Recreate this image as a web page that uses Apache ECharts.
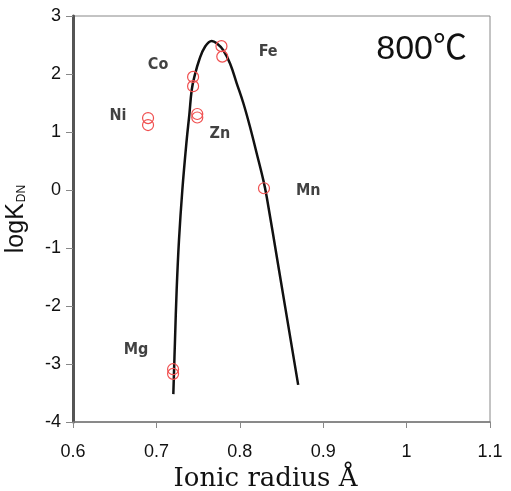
<!DOCTYPE html>
<html>
<head>
<meta charset="utf-8">
<script src="https://cdn.jsdelivr.net/npm/echarts@6/dist/echarts.min.js"></script>
<style>
html, body { margin: 0; padding: 0; background: #fff; }
#chart { width: 511px; height: 491px; }
</style>
</head>
<body>
<div id="chart"></div>
<script>
// measured points (ionic radius, logK)
var pointX = [0.69, 0.69, 0.744, 0.744, 0.749, 0.749, 0.778, 0.779, 0.829, 0.72, 0.72];
var pointY = [1.24, 1.12, 1.95, 1.79, 1.31, 1.25, 2.48, 2.30, 0.03, -3.09, -3.17];

// fitted curve
var curveX = [0.7203, 0.7223, 0.7243, 0.7271, 0.7311, 0.7363, 0.7395, 0.7423, 0.7455, 0.7515, 0.7583, 0.7663, 0.7723, 0.7802, 0.7883, 0.7963, 0.8042, 0.8122, 0.8203, 0.8282, 0.8323, 0.847, 0.870];
var curveY = [-3.52, -2.59, -1.72, -0.86, 0.0, 0.86, 1.30, 1.72, 1.95, 2.25, 2.47, 2.57, 2.53, 2.41, 2.18, 1.84, 1.50, 1.09, 0.63, 0.17, -0.12, -1.38, -3.36];

// element labels
var labelNames = ['Co', 'Ni', 'Zn', 'Fe', 'Mn', 'Mg'];
var labelX = [0.702, 0.654, 0.776, 0.834, 0.882, 0.6755];
var labelY = [2.155, 1.28, 0.97, 2.38, -0.02, -2.76];

var xTicks = [0.6, 0.7, 0.8, 0.9, 1, 1.1];

var chart = echarts.init(document.getElementById('chart'));

var points = pointX.map(function (x, i) { return [x, pointY[i]]; });
var curve = curveX.map(function (x, i) { return [x, curveY[i]]; });
var labels = labelNames.map(function (n, i) { return { name: n, value: [labelX[i], labelY[i]] }; });

var option = {
    animation: false,
    grid: {
        left: 73, right: 21, top: 16, bottom: 69,
        containLabel: false,
        outerBoundsMode: 'none',
        show: true,
        borderColor: '#888',
        borderWidth: 1
    },
    xAxis: {
        type: 'value',
        min: 0.6, max: 1.1, interval: 0.1,
        name: 'Ionic radius Å',
        nameLocation: 'middle',
        nameGap: 43,
        nameTextStyle: { fontFamily: 'DejaVu Serif', fontSize: 26, color: '#111', padding: [0, 32, 0, 0] },
        axisLine: { onZero: false, lineStyle: { color: '#777', width: 1.5 } },
        axisTick: { show: true, length: 6, lineStyle: { color: '#888' } },
        axisLabel: {
            fontFamily: 'Liberation Sans', fontSize: 18, color: '#111', margin: 21,
            formatter: function (v) {
                for (var i = 0; i < xTicks.length; i++) {
                    if (Math.abs(v - xTicks[i]) < 1e-6) return String(xTicks[i]);
                }
                return '';
            }
        },
        splitLine: { show: false }
    },
    yAxis: {
        type: 'value',
        min: -4, max: 3, interval: 1,
        name: '{a|logK}{b|DN}',
        nameLocation: 'middle',
        nameGap: 44,
        nameRotate: 90,
        nameTextStyle: {
            rich: {
                a: { fontFamily: 'Liberation Sans', fontSize: 25, color: '#111' },
                b: { fontFamily: 'Liberation Sans', fontSize: 12, color: '#111', padding: [10, 0, 0, 1] }
            }
        },
        axisLine: { onZero: false, lineStyle: { color: '#555', width: 3 } },
        axisTick: { show: true, length: 7, lineStyle: { color: '#888' } },
        axisLabel: { fontFamily: 'Liberation Sans', fontSize: 18, color: '#111', margin: 12 },
        splitLine: { show: false }
    },
    graphic: [{
        type: 'text',
        right: 44,
        top: 33,
        style: { text: '800℃', font: '34px "Liberation Sans", "Noto Sans CJK SC"', fill: '#111' }
    }],
    series: [
        {
            type: 'line',
            data: curve,
            smooth: 0.4,
            showSymbol: false,
            lineStyle: { color: '#111', width: 2.5 },
            z: 2
        },
        {
            type: 'scatter',
            data: points,
            symbol: 'circle',
            symbolSize: 11,
            itemStyle: { color: 'rgba(0,0,0,0)', borderColor: '#f05050', borderWidth: 1.2, opacity: 1 },
            z: 3
        },
        {
            type: 'scatter',
            data: labels,
            symbolSize: 0,
            label: {
                show: true,
                position: 'inside',
                formatter: '{b}',
                fontFamily: 'DejaVu Sans Condensed',
                fontWeight: 'bold',
                fontSize: 16,
                color: '#111'
            },
            z: 4
        }
    ]
};

chart.setOption(option);
</script>
</body>
</html>
